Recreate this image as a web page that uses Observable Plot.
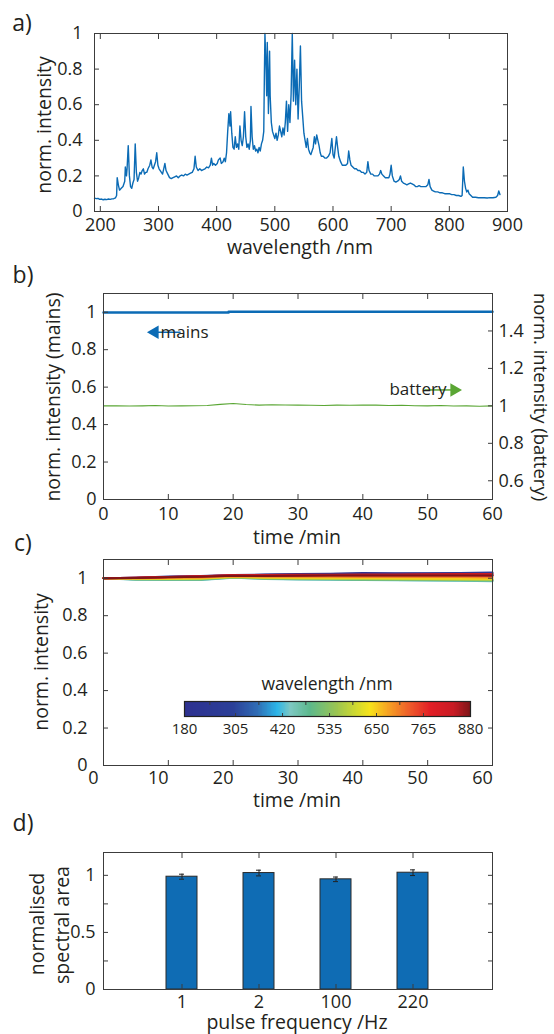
<!DOCTYPE html>
<html><head><meta charset="utf-8">
<script src="https://cdn.jsdelivr.net/npm/d3@7"></script>
<script src="https://cdn.jsdelivr.net/npm/@observablehq/plot@0.6"></script>
<style>
body{margin:0;background:#fff;}
#root{position:relative;width:554px;height:1034px;font-family:"Open Sans",sans-serif;color:#231f20;overflow:hidden;}
</style></head><body><div id="root"></div>
<script>
// ---------- DATA ----------
// a) spectrum
const specWl = [190,193,196,199,202,205,208,211,214,217,220,223,226,228,229,231,233,236,239,242,243,245,246,248,250,252,254,256,258,260,262,264,266,268,270,272,274,276,278,280,282,285,287,289,291,293,295,297,299,301,303,305,307,309,311,313,316,319,322,325,328,331,334,337,340,343,346,349,352,355,358,361,363,365,368,371,374,377,380,383,386,389,391,393,395,398,401,403,406,408,411,413,415,417,419,421,423,424,426,428,430,432,434,436,438,440,442,444,446,448,450,452,454,456,458,459,461,463,465,467,469,471,473,475,477,479,481,482,483,485,486,487,488,489,490,491,492,494,496,498,500,502,504,506,508,510,512,514,516,518,520,522,524,526,528,530,532,534,536,538,540,542,544,546,548,550,552,554,556,558,560,562,564,566,568,570,572,574,576,578,580,583,586,589,592,595,598,600,602,604,606,608,610,613,616,619,622,625,627,629,631,634,637,640,643,646,649,652,655,658,660,662,665,668,671,674,677,680,682,684,687,690,693,696,698,700,702,705,708,711,714,716,718,721,724,727,730,733,736,739,742,745,748,751,754,757,760,763,765,767,770,773,776,780,784,788,792,796,800,804,808,812,816,820,822,824,826,828,830,832,834,837,840,845,850,855,860,865,870,875,880,883,885,887];
const specI = [.075,.072,.074,.068,.070,.066,.069,.067,.070,.068,.071,.072,.076,.09,.19,.15,.12,.13,.14,.17,.25,.20,.24,.37,.20,.14,.13,.16,.18,.38,.22,.17,.19,.22,.21,.23,.24,.21,.22,.22,.24,.26,.29,.25,.24,.26,.28,.33,.26,.24,.23,.22,.21,.24,.27,.23,.21,.19,.185,.19,.195,.20,.19,.20,.205,.20,.21,.205,.21,.215,.22,.24,.31,.25,.23,.24,.23,.235,.24,.25,.245,.26,.30,.26,.27,.26,.27,.29,.30,.27,.28,.30,.28,.33,.45,.55,.48,.56,.44,.36,.35,.42,.36,.38,.35,.48,.40,.37,.42,.56,.42,.36,.38,.35,.40,.59,.42,.35,.37,.34,.35,.33,.36,.34,.38,.40,.45,.75,1.0,.80,.65,.95,.80,.55,.70,.90,.65,.50,.45,.43,.41,.44,.40,.43,.48,.45,.42,.47,.43,.50,.62,.45,.60,.50,.66,1.0,.62,.85,.60,.80,.52,.70,.93,.62,.53,.44,.40,.36,.41,.35,.33,.32,.34,.36,.42,.38,.43,.40,.37,.33,.31,.31,.30,.30,.31,.33,.41,.32,.30,.36,.42,.36,.31,.28,.26,.26,.26,.27,.34,.29,.26,.25,.24,.24,.23,.23,.22,.22,.21,.22,.28,.23,.21,.21,.20,.20,.20,.21,.23,.21,.20,.19,.19,.19,.21,.26,.20,.17,.165,.17,.18,.20,.17,.16,.155,.15,.155,.16,.155,.15,.14,.14,.145,.14,.14,.14,.14,.15,.18,.14,.12,.115,.11,.11,.105,.105,.10,.10,.10,.095,.095,.09,.09,.085,.09,.25,.17,.13,.11,.12,.10,.09,.08,.08,.077,.078,.077,.076,.078,.077,.08,.09,.115,.095];
const aXTicks = [200,300,400,500,600,700,800,900];
const aYTicks = [0,0.2,0.4,0.6,0.8,1];

// b) stability, mains vs battery
const mainsT = [0,5,10,15,19,19.3,25,30,35,40,45,50,55,60];
const mainsV = [0.998,0.998,0.998,0.998,0.998,1.003,1.003,1.003,1.003,1.003,1.003,1.003,1.003,1.003];
const batT = [0,2,4,6,8,10,12,14,16,18,20,22,24,26,28,30,32,34,36,38,40,42,44,46,48,50,52,54,56,58,60];
const batV = [1.000,1.001,0.999,1.000,1.002,0.999,1.000,1.001,1.002,1.008,1.013,1.007,1.004,1.006,1.005,1.004,1.003,1.002,1.004,1.003,1.005,1.004,1.002,1.003,1.001,1.000,1.002,0.999,1.000,0.998,1.000];
const bXTicks = [0,10,20,30,40,50,60];
const bYTicks = [0,0.2,0.4,0.6,0.8,1];
const bRightTicks = [0.6,0.8,1,1.2,1.4];   // battery axis values
const bRightOffset = 0.5;                  // battery axis = mains axis + 0.5
const bNotes = [
  {label:"mains",   tx:12.5, ty:0.893, x1:11.9, x2:7.9,  dir:-1},
  {label:"battery", tx:48.5, ty:0.585, x1:49.5, x2:54.1, dir:1}
];

// c) per-wavelength stability
const cTimes = [0,5,10,15,20,25,30,35,40,45,50,55,60];
const cWavelengths = [180,250,320,390,430,480,540,600,650,700,760,800,840,880];
const cSeries = [
  [1.000,1.003,1.009,1.012,1.017,1.020,1.022,1.024,1.028,1.026,1.027,1.028,1.030],
  [1.000,1.002,1.007,1.010,1.015,1.018,1.020,1.022,1.024,1.024,1.025,1.026,1.027],
  [1.000,0.998,1.002,1.004,1.010,1.010,1.012,1.013,1.015,1.014,1.015,1.016,1.016],
  [1.000,0.995,0.995,0.995,1.005,1.000,0.998,0.996,0.995,0.994,0.993,0.992,0.990],
  [1.000,0.992,0.991,0.991,1.003,0.996,0.993,0.992,0.990,0.989,0.988,0.987,0.984],
  [1.000,0.993,0.992,0.992,1.004,0.997,0.994,0.993,0.991,0.990,0.989,0.988,0.986],
  [1.000,0.995,0.994,0.995,1.005,0.999,0.997,0.996,0.994,0.993,0.992,0.991,0.989],
  [1.000,0.997,0.996,0.998,1.007,1.002,1.000,0.999,0.998,0.997,0.996,0.995,0.993],
  [1.000,0.998,0.998,1.000,1.008,1.004,1.003,1.002,1.001,1.000,0.999,0.998,0.997],
  [1.000,1.000,1.002,1.004,1.011,1.008,1.008,1.008,1.007,1.007,1.006,1.006,1.004],
  [1.000,1.001,1.005,1.008,1.014,1.012,1.013,1.014,1.014,1.014,1.014,1.014,1.012],
  [1.000,1.002,1.006,1.010,1.015,1.015,1.016,1.017,1.017,1.017,1.018,1.018,1.018],
  [1.000,1.002,1.007,1.011,1.017,1.017,1.018,1.019,1.020,1.020,1.021,1.022,1.022],
  [1.000,1.001,1.005,1.008,1.013,1.012,1.013,1.014,1.014,1.014,1.015,1.015,1.015]
];
const cXTicks = [0,10,20,30,40,50,60];
const cYTicks = [0,0.2,0.4,0.6,0.8,1];
const cbarLabels = [180,305,420,535,650,765,880];
const cbarTopTicks = [242,362,477,592,707];
const cbarBottomTicks = [305,420,535,650,765];
const cmapStops = [180,300,360,408,440,488,554,603,635,677,733,782,840,880];
const cmapColors = ["#2e3190","#2b3f98","#2f6db5","#2cb5e8","#7ec8c3","#5cb88c","#9cc550","#d2da2e","#f7e31a","#f6a623","#ee5a2a","#e21f26","#c81b24","#7e1518"];

// d) pulse frequency
const dFreqs = ["1","2","100","220"];
const dValues = [0.988,1.020,0.965,1.023];
const dErrors = [0.022,0.025,0.020,0.025];
const dYLabelTicks = [0,0.5,1];
const dYTicks = [0,0.25,0.5,0.75,1];

// ---------- HELPERS ----------
const root = document.getElementById("root");
const FONT = '"Open Sans", sans-serif';
const TXT = "#231f20";
const FRAME = "#3c3c3c";
const BLUE = "#0b6bb5";
const GREEN = "#5aa634";
const TICK = 18;
const LAB = 19.5;

function st(size){ return {fontFamily: FONT, fontSize: size + "px", color: TXT, background: "transparent", overflow: "visible"}; }
function place(node, left, top){ node.style.position = "absolute"; node.style.left = left + "px"; node.style.top = top + "px"; root.appendChild(node); }
function txt(s, cx, cy, size, rot = 0){
  const d = document.createElement("div");
  d.textContent = s;
  d.style.cssText = `position:absolute;left:${cx}px;top:${cy}px;font-size:${size}px;line-height:1;white-space:nowrap;transform:translate(-50%,-50%) rotate(${rot}deg);`;
  root.appendChild(d);
}
function tk(dim, anchor, values, len = 5){
  const f = dim === "x" ? Plot.axisX : Plot.axisY;
  return f({anchor, ticks: values, tickSize: -len, tickFormat: () => "", label: null, stroke: FRAME});
}
function lb(dim, anchor, values, pad, fmt = d => String(d), extra = {}){
  const f = dim === "x" ? Plot.axisX : Plot.axisY;
  return f({anchor, ticks: values, tickSize: 0, tickPadding: pad, tickFormat: fmt, label: null, fill: TXT, ...extra});
}
const colorScale = {type: "linear", domain: cmapStops, range: cmapColors, interpolate: "rgb"};

// ---------- PANEL A ----------
const specData = specWl.map((w, i) => ({w, v: specI[i]}));
place(Plot.plot({
  width: 554, height: 260, marginLeft: 94, marginRight: 47, marginTop: 33, marginBottom: 49,
  style: st(TICK),
  x: {domain: [190, 900]}, y: {domain: [0, 1]},
  marks: [
    Plot.line(specData, {x: "w", y: "v", stroke: BLUE, strokeWidth: 1.4}),
    Plot.frame({stroke: FRAME}),
    tk("x", "bottom", aXTicks), tk("x", "top", aXTicks),
    tk("y", "left", aYTicks), tk("y", "right", aYTicks),
    lb("x", "bottom", aXTicks, 7), lb("y", "left", aYTicks, 12)
  ]
}), 0, 0);
txt("a)", 22, 22, 23);
txt("wavelength /nm", 300, 247, LAB);
txt("norm. intensity", 43.5, 125, LAB, -90);

// ---------- PANEL B ----------
const mainsData = mainsT.map((t, i) => ({t, v: mainsV[i]}));
const batData = batT.map((t, i) => ({t, v: batV[i]}));
place(Plot.plot({
  width: 554, height: 290, marginLeft: 103, marginRight: 62, marginTop: 33, marginBottom: 51,
  style: st(TICK),
  x: {domain: [0, 60]}, y: {domain: [0, 1.1]},
  marks: [
    Plot.line(batData, {x: "t", y: d => d.v - bRightOffset, stroke: GREEN, strokeWidth: 1.1}),
    Plot.line(mainsData, {x: "t", y: "v", stroke: BLUE, strokeWidth: 2.5, curve: "step-after"}),
    Plot.link(bNotes, {x1: "x1", x2: "x2", y1: "ty", y2: "ty", stroke: d => d.dir < 0 ? BLUE : GREEN, strokeWidth: 1.5}),
    Plot.dot(bNotes, {x: "x2", y: "ty", symbol: "triangle", r: 5, fill: d => d.dir < 0 ? BLUE : GREEN, stroke: "none", rotate: d => d.dir * 90}),
    Plot.text(bNotes, {x: "tx", y: "ty", text: "label", textAnchor: d => d.dir < 0 ? "start" : "end", fontSize: 17, fill: TXT}),
    Plot.frame({stroke: FRAME}),
    tk("x", "bottom", bXTicks), tk("x", "top", bXTicks),
    tk("y", "left", bYTicks), tk("y", "right", bRightTicks.map(v => v - bRightOffset)),
    lb("x", "bottom", bXTicks, 8), lb("y", "left", bYTicks, 7),
    lb("y", "right", bRightTicks.map(v => v - bRightOffset), 6, d => String(+(d + bRightOffset).toFixed(1)))
  ]
}), 0, 260);
txt("b)", 23, 274, 23);
txt("norm. intensity (mains)", 52.5, 396.5, LAB, -90);
txt("norm. intensity (battery)", 540.5, 397, 18.5, 90);
txt("time /min", 297, 537, LAB);

// ---------- PANEL C ----------
const cData = [];
cWavelengths.forEach((wl, s) => cTimes.forEach((t, i) => cData.push({wl, t, v: cSeries[s][i]})));
place(Plot.plot({
  width: 554, height: 280, marginLeft: 103, marginRight: 62, marginTop: 39, marginBottom: 35,
  style: st(TICK),
  x: {domain: [0, 60]}, y: {domain: [0, 1.1]},
  color: colorScale,
  marks: [
    Plot.line(cData, {x: "t", y: "v", z: "wl", stroke: "wl", strokeWidth: 2}),
    Plot.frame({stroke: FRAME}),
    tk("x", "bottom", cXTicks), tk("x", "top", cXTicks),
    tk("y", "left", cYTicks), tk("y", "right", cYTicks),
    lb("x", "bottom", cXTicks, 6, d => String(d), {dx: -10}), lb("y", "left", cYTicks, 16)
  ]
}), 0, 520);
txt("c)", 23, 542, 23);
txt("norm. intensity", 40.5, 661.5, LAB, -90);
txt("time /min", 297, 800, LAB);

// colorbar
const cbarBins = d3.range(180, 880, 2);
place(Plot.plot({
  width: 326, height: 50, marginLeft: 20, marginRight: 20, marginTop: 5, marginBottom: 30,
  style: st(15),
  x: {domain: [180, 880]}, y: {domain: [0, 1], axis: null},
  color: colorScale,
  marks: [
    Plot.rect(cbarBins, {x1: d => d, x2: d => Math.min(d + 3, 880), y1: 0, y2: 1, fill: d => d + 1, shapeRendering: "crispEdges"}),
    Plot.frame({stroke: "#222", strokeWidth: 1.2}),
    tk("x", "top", cbarTopTicks, 3), tk("x", "bottom", cbarBottomTicks, 3),
    lb("x", "bottom", cbarLabels, 7)
  ]
}), 164, 696);
txt("wavelength /nm", 327, 684, 17.5);

// ---------- PANEL D ----------
const dData = dFreqs.map((f, i) => ({f, v: dValues[i], e: dErrors[i]}));
place(Plot.plot({
  width: 554, height: 234, marginLeft: 103, marginRight: 62, marginTop: 52, marginBottom: 45,
  style: st(TICK),
  x: {type: "band", domain: dFreqs, paddingInner: 0.596, paddingOuter: 0.798},
  y: {domain: [0, 1.2]},
  marks: [
    Plot.barY(dData, {x: "f", y: "v", fill: "#0f6cb4", stroke: "#2a2a2a", strokeWidth: 1}),
    Plot.ruleX(dData, {x: "f", y1: d => d.v - d.e, y2: d => d.v + d.e, stroke: "#222", strokeWidth: 1}),
    Plot.tickY(dData, {x: "f", y: d => d.v - d.e, stroke: "#222", insetLeft: 13, insetRight: 13}),
    Plot.tickY(dData, {x: "f", y: d => d.v + d.e, stroke: "#222", insetLeft: 13, insetRight: 13}),
    Plot.frame({stroke: FRAME}),
    tk("x", "bottom", dFreqs), tk("x", "top", dFreqs),
    tk("y", "left", dYTicks), tk("y", "right", dYTicks),
    lb("x", "bottom", dFreqs, 6), lb("y", "left", dYLabelTicks, 8)
  ]
}), 0, 800);
txt("d)", 23, 822, 23);
txt("normalised", 36.5, 924, LAB, -90);
txt("spectral area", 61.5, 924.5, LAB, -90);
txt("pulse frequency /Hz", 297, 1022, LAB);
</script></body></html>
